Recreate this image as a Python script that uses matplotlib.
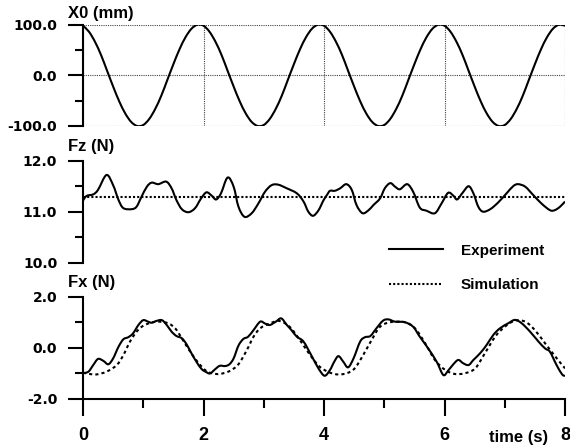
import numpy as np
import matplotlib
matplotlib.use("Agg")
import matplotlib.pyplot as plt
from matplotlib.lines import Line2D
from matplotlib.path import Path
from matplotlib.patches import PathPatch
from matplotlib.ticker import FixedLocator, FormatStrFormatter
from matplotlib.font_manager import FontProperties

# ---- data -------------------------------------------------------------
# Imposed displacement X0 (mm), sampled every 0.1 s
t_x0 = np.round(np.arange(0.0, 8.05, 0.1), 2)
x0_mm = [98, 86, 66, 40, 9, -22, -51, -75, -92, -100,
         -98, -86, -66, -40, -9, 22, 51, 75, 92, 100,
         98, 86, 66, 40, 9, -22, -51, -75, -92, -100,
         -98, -86, -66, -40, -9, 22, 51, 75, 92, 100,
         98, 86, 66, 40, 9, -22, -51, -75, -92, -100,
         -98, -86, -66, -40, -9, 22, 51, 75, 92, 100,
         98, 86, 66, 40, 9, -22, -51, -75, -92, -100,
         -98, -86, -66, -40, -9, 22, 51, 75, 92, 100,
         98]

# Vertical force Fz (N), experiment
t_fz = [0.00, 0.06, 0.17, 0.25, 0.39, 0.50, 0.59, 0.67, 0.81, 0.89,
        0.97, 1.06, 1.14, 1.25, 1.38, 1.47, 1.55, 1.64, 1.75, 1.86,
        1.96, 2.05, 2.14, 2.21, 2.29, 2.40, 2.50, 2.58, 2.68, 2.80,
        2.91, 3.02, 3.13, 3.24, 3.38, 3.55, 3.66, 3.74, 3.82, 3.91,
        3.99, 4.05, 4.10, 4.18, 4.27, 4.37, 4.46, 4.54, 4.64, 4.74,
        4.82, 4.93, 5.01, 5.10, 5.18, 5.26, 5.38, 5.48, 5.59, 5.70,
        5.84, 5.95, 6.06, 6.15, 6.21, 6.30, 6.40, 6.48, 6.56, 6.64,
        6.76, 6.89, 7.03, 7.14, 7.22, 7.34, 7.47, 7.61, 7.75, 7.83,
        7.92, 8.00]
fz_exp = [11.22, 11.31, 11.34, 11.43, 11.72, 11.52, 11.23, 11.07, 11.05, 11.10,
          11.29, 11.49, 11.57, 11.54, 11.59, 11.46, 11.23, 11.05, 10.99, 11.07,
          11.26, 11.38, 11.31, 11.24, 11.36, 11.67, 11.49, 11.10, 10.90, 10.97,
          11.16, 11.39, 11.52, 11.53, 11.46, 11.36, 11.20, 11.00, 10.92, 11.03,
          11.22, 11.33, 11.41, 11.41, 11.46, 11.54, 11.43, 11.13, 10.97, 11.03,
          11.13, 11.26, 11.46, 11.56, 11.49, 11.44, 11.54, 11.39, 11.08, 11.02,
          10.97, 11.16, 11.37, 11.31, 11.24, 11.37, 11.50, 11.36, 11.10, 11.00,
          11.05, 11.18, 11.36, 11.50, 11.54, 11.49, 11.33, 11.16, 11.03, 11.03,
          11.10, 11.20]
# Vertical force Fz (N), simulation (constant)
t_fz_sim = [0.0, 8.0]
fz_sim = [11.28, 11.28]

# Horizontal force Fx (N), experiment
t_fx = [0.00, 0.09, 0.17, 0.25, 0.34, 0.42, 0.50, 0.59, 0.67, 0.75,
        0.83, 0.92, 1.00, 1.08, 1.14, 1.22, 1.31, 1.39, 1.47, 1.55,
        1.64, 1.72, 1.80, 1.89, 1.97, 2.04, 2.11, 2.19, 2.27, 2.36,
        2.43, 2.50, 2.58, 2.66, 2.74, 2.83, 2.94, 3.02, 3.10, 3.20,
        3.29, 3.38, 3.46, 3.55, 3.66, 3.79, 3.91, 4.01, 4.10, 4.17,
        4.24, 4.32, 4.40, 4.49, 4.60, 4.68, 4.77, 4.87, 4.98, 5.07,
        5.18, 5.34, 5.48, 5.59, 5.73, 5.87, 5.98, 6.06, 6.15, 6.23,
        6.31, 6.40, 6.48, 6.59, 6.70, 6.81, 6.92, 7.06, 7.17, 7.28,
        7.42, 7.56, 7.67, 7.75, 7.86, 7.95, 8.00]
fx_exp = [-1.00, -0.94, -0.68, -0.44, -0.52, -0.65, -0.42, 0.04, 0.33, 0.41,
          0.56, 0.89, 1.08, 1.02, 0.98, 1.05, 1.08, 0.89, 0.63, 0.46,
          0.37, 0.13, -0.22, -0.58, -0.84, -0.95, -1.01, -0.85, -0.71, -0.72,
          -0.65, -0.42, 0.08, 0.34, 0.43, 0.69, 1.02, 0.95, 0.89, 1.02,
          1.15, 0.90, 0.69, 0.43, 0.24, -0.30, -0.82, -1.10, -0.87, -0.55,
          -0.33, -0.55, -0.77, -0.42, 0.24, 0.41, 0.46, 0.76, 1.06, 1.11,
          1.02, 1.00, 0.82, 0.43, -0.03, -0.55, -1.07, -0.90, -0.64, -0.48,
          -0.61, -0.68, -0.48, -0.22, 0.11, 0.50, 0.76, 0.96, 1.09, 0.96,
          0.63, 0.24, -0.03, -0.16, -0.68, -1.04, -1.11]

# Horizontal force Fx (N), simulation
t_fx_sim = [0.00, 0.11, 0.22, 0.39, 0.56, 0.67, 0.78, 0.89, 1.00, 1.14,
            1.28, 1.42, 1.53, 1.64, 1.78, 1.92, 2.05, 2.16, 2.27, 2.43,
            2.58, 2.72, 2.83, 2.94, 3.10, 3.26, 3.43, 3.60, 3.77, 3.93,
            4.10, 4.24, 4.38, 4.51, 4.65, 4.79, 4.93, 5.10, 5.34, 5.51,
            5.68, 5.84, 6.01, 6.17, 6.34, 6.51, 6.67, 6.84, 7.00, 7.17,
            7.34, 7.50, 7.67, 7.84, 8.00]
fx_sim = [-0.98, -1.03, -1.05, -0.94, -0.68, -0.29, 0.24, 0.63, 0.86, 0.99,
          1.02, 0.95, 0.76, 0.37, -0.16, -0.61, -0.92, -1.01, -1.03, -0.92,
          -0.65, -0.09, 0.43, 0.76, 0.95, 1.05, 0.82, 0.30, -0.29, -0.75,
          -0.98, -1.05, -1.00, -0.81, -0.29, 0.30, 0.82, 1.00, 1.00, 0.76,
          0.17, -0.48, -0.87, -1.03, -1.00, -0.81, -0.22, 0.43, 0.82, 1.06,
          1.02, 0.69, 0.17, -0.35, -0.81]

x_major = [0, 2, 4, 6, 8]
x_minor = [1, 3, 5, 7]

# ---- figure -----------------------------------------------------------
W, H = 570, 448
fig = plt.figure(figsize=(W / 100, H / 100), dpi=100)

LAB = dict(family="Liberation Sans", fontweight="bold", fontsize=12, color="black")
TICKFONT = FontProperties(family="DejaVu Sans", weight="bold", size=10)
LW = 1.5
DOT = (0, (1, 1))            # Line2D dashes scale with linewidth
DOT_PATCH = (0, (1.5, 1.5))  # patch dashes are given in points directly


def spline_curve(ax, x, y, **kw):
    """Draw a smooth (Catmull-Rom / cubic Bezier) connecting line through the samples."""
    p = np.column_stack([np.asarray(x, float), np.asarray(y, float)])
    n = len(p)
    verts = [p[0]]
    codes = [Path.MOVETO]
    for i in range(n - 1):
        p0 = p[i - 1] if i > 0 else p[i]
        p1, p2 = p[i], p[i + 1]
        p3 = p[i + 2] if i + 2 < n else p[i + 1]
        verts += [p1 + (p2 - p0) / 6.0, p2 - (p3 - p1) / 6.0, p2]
        codes += [Path.CURVE4] * 3
    patch = PathPatch(Path(verts, codes), fill=False, capstyle="butt",
                      joinstyle="round", **kw)
    ax.add_patch(patch)
    return patch


def axes_px(x0, x1, ytop, ybot):
    return fig.add_axes([x0 / W, 1 - ybot / H, (x1 - x0) / W, (ybot - ytop) / H])


def style_y(ax, major, minor):
    for s in ("top", "right", "bottom"):
        ax.spines[s].set_visible(False)
    ax.spines["left"].set_linewidth(LW)
    ax.yaxis.set_major_locator(FixedLocator(major))
    ax.yaxis.set_minor_locator(FixedLocator(minor))
    ax.yaxis.set_major_formatter(FormatStrFormatter("%.1f"))
    ax.tick_params(axis="y", which="major", direction="out", length=11, width=LW, pad=7.5)
    ax.tick_params(axis="y", which="minor", direction="out", length=5.8, width=LW)
    for lab in ax.get_yticklabels():
        lab.set_fontproperties(TICKFONT)
    ax.set_xlim(0, 8)


ax1 = axes_px(83, 565, 24.7, 126)
ax2 = axes_px(83, 565, 160.7, 262.7)
ax3 = axes_px(83, 565, 296.7, 398.7)

# top: displacement with dotted grid
spline_curve(ax1, t_x0, x0_mm, edgecolor="black", lw=LW, zorder=3)
ax1.set_ylim(-100, 100)
style_y(ax1, [-100, 0, 100], [-50, 50])
ax1.xaxis.set_major_locator(FixedLocator(x_major))
ax1.tick_params(axis="x", which="both", length=0, labelbottom=False)
ax1.grid(True, which="major", color="#444444", lw=0.8, linestyle=DOT)

# middle: vertical force
spline_curve(ax2, t_fz, fz_exp, edgecolor="black", lw=LW, zorder=3)
ax2.plot(t_fz_sim, fz_sim, color="black", lw=LW, linestyle=DOT, zorder=3)
ax2.set_ylim(10, 12)
style_y(ax2, [10, 11, 12], [10.5, 11.5])
ax2.tick_params(axis="x", which="both", length=0, labelbottom=False)

# bottom: horizontal force with time axis
spline_curve(ax3, t_fx, fx_exp, edgecolor="black", lw=LW, zorder=3)
spline_curve(ax3, t_fx_sim, fx_sim, edgecolor="black", lw=LW, linestyle=DOT_PATCH, zorder=3)
ax3.set_ylim(-2, 2)
style_y(ax3, [-2, 0, 2], [-1, 1])
ax3.spines["bottom"].set_visible(True)
ax3.spines["bottom"].set_linewidth(LW)
ax3.xaxis.set_major_locator(FixedLocator(x_major))
ax3.xaxis.set_minor_locator(FixedLocator(x_minor))
ax3.set_xticklabels([str(v) for v in x_major])
ax3.tick_params(axis="x", which="major", direction="out", length=12.2, width=LW, pad=8)
ax3.tick_params(axis="x", which="minor", direction="out", length=6.5, width=LW)
for lab in ax3.get_xticklabels():
    lab.set_fontproperties(FontProperties(family="Liberation Sans", weight="bold", size=13))

for a in (ax1, ax2, ax3):
    a.patch.set_visible(False)

# axis titles
fig.text(68 / W, 1 - 18.3 / H, "X0 (mm)", va="baseline", ha="left", **LAB)
fig.text(68 / W, 1 - 151.5 / H, "Fz (N)", va="baseline", ha="left", **LAB)
fig.text(68 / W, 1 - 286.5 / H, "Fx (N)", va="baseline", ha="left", **LAB)
fig.text(548 / W, 1 - 441.5 / H, "time (s)", va="baseline", ha="right", **LAB)

# legend
LEG = dict(family="Liberation Sans", fontweight="bold", fontsize=11, color="black")
fig.add_artist(Line2D([389 / W, 443 / W], [1 - 249 / H, 1 - 249 / H],
                      transform=fig.transFigure, color="black", lw=LW))
fig.add_artist(Line2D([389 / W, 441 / W], [1 - 284 / H, 1 - 284 / H],
                      transform=fig.transFigure, color="black", lw=LW, linestyle=DOT))
fig.text(461 / W, 1 - 255 / H, "Experiment", va="baseline", ha="left", **LEG)
fig.text(461 / W, 1 - 289 / H, "Simulation", va="baseline", ha="left", **LEG)

fig.savefig("out.png", dpi=100, facecolor="white")
